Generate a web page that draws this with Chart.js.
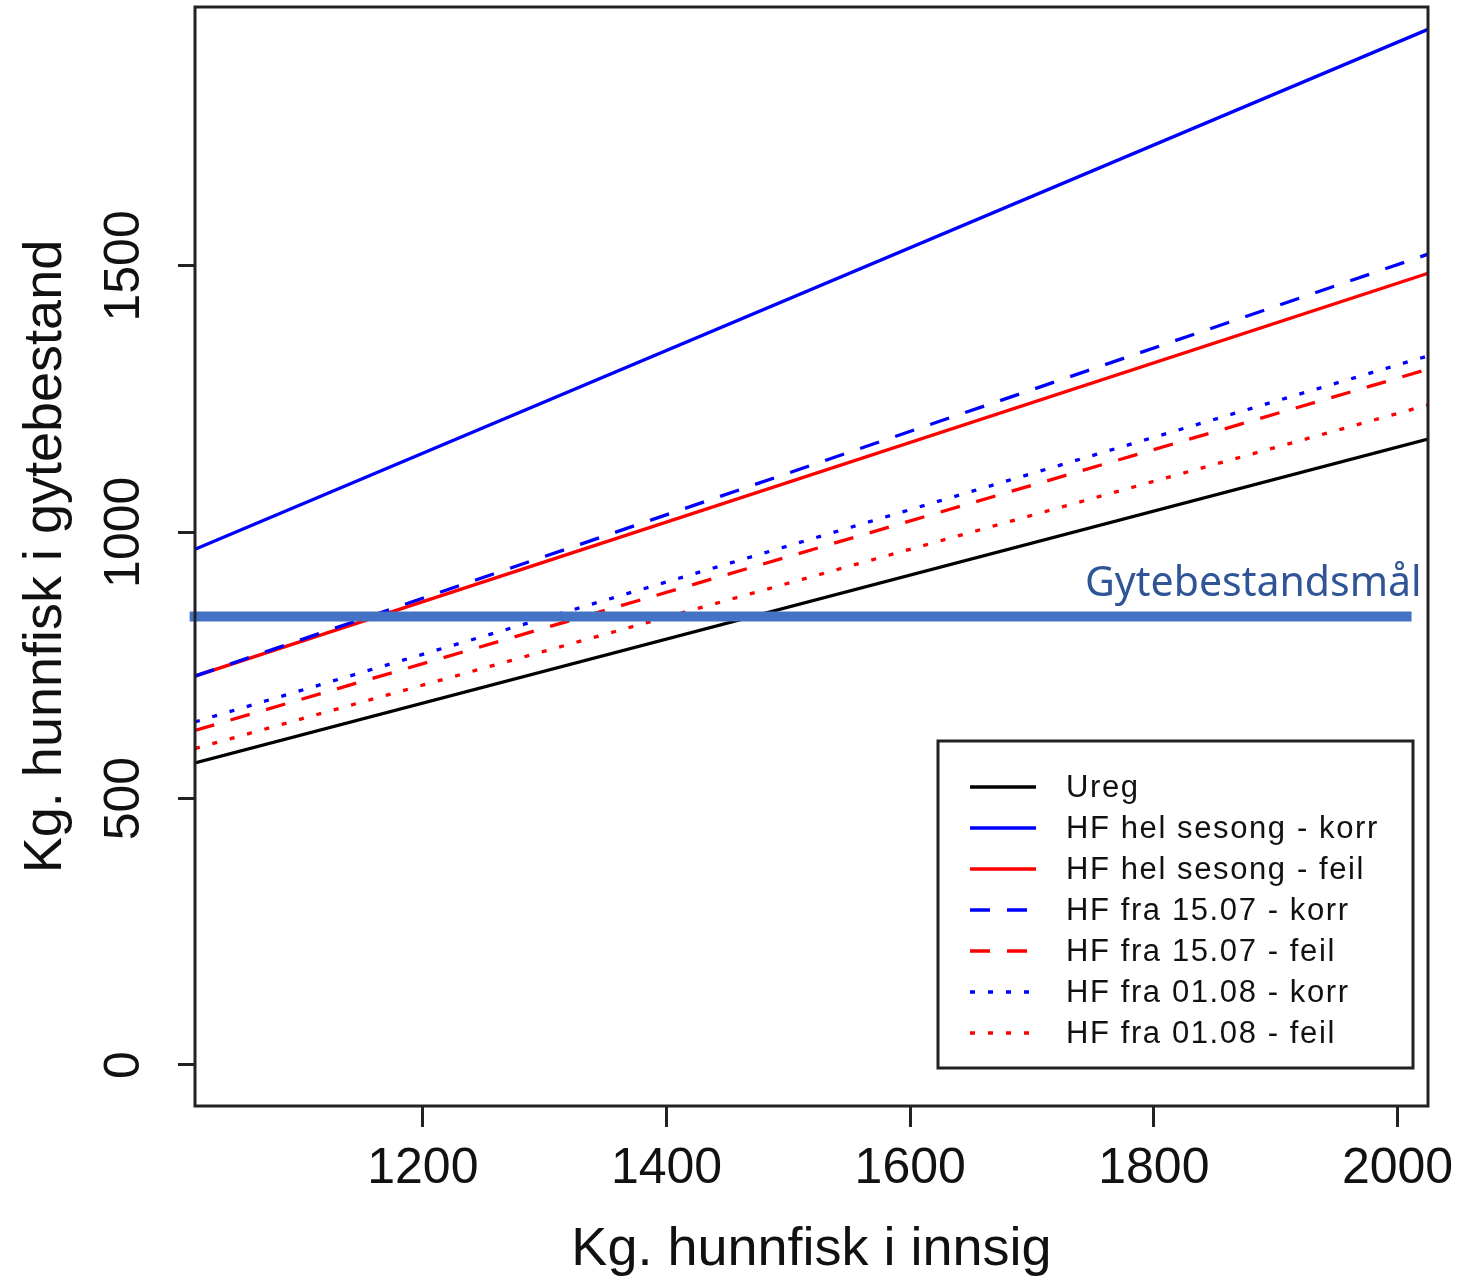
<!DOCTYPE html>
<html><head><meta charset="utf-8">
<script src="https://cdn.jsdelivr.net/npm/chart.js@4.4.1/dist/chart.umd.min.js"></script>
<style>html,body{margin:0;padding:0;background:#fff;}#wrap{width:1478px;height:1283px;}</style>
</head><body><div id="wrap"><canvas id="c" width="1478" height="1283"></canvas></div>
<script>
// ---- data ----
const xEnds = [1013, 2025];
const seriesNames = ['Ureg', 'HF hel sesong - korr', 'HF hel sesong - feil', 'HF fra 15.07 - korr', 'HF fra 15.07 - feil', 'HF fra 01.08 - korr', 'HF fra 01.08 - feil'];
const uregY = [567, 1175];
const helKorrY = [968, 1944];
const helFeilY = [730, 1486];
const fra1507KorrY = [730, 1522];
const fra1507FeilY = [628, 1306];
const fra0108KorrY = [644, 1331];
const fra0108FeilY = [594, 1239];
const targetLabel = 'Gytebestandsmål';
const targetX = [1008.6, 2011.5];
const targetY = [842, 842];
const xTicks = [1200, 1400, 1600, 1800, 2000];
const yTicks = [0, 500, 1000, 1500];
const xTitle = 'Kg. hunnfisk i innsig';
const yTitle = 'Kg. hunnfisk i gytebestand';

// ---- styles ----
const seriesY = [uregY, helKorrY, helFeilY, fra1507KorrY, fra1507FeilY, fra0108KorrY, fra0108FeilY];
const seriesColors = ['#000000', '#0000FF', '#FF0000', '#0000FF', '#FF0000', '#0000FF', '#FF0000'];
const DASH = [20, 17], DOT = [5, 13];
const seriesDash = [[], [], [], DASH, DASH, DOT, DOT];
const FONT = "'Liberation Sans', Arial, sans-serif";

const datasets = seriesNames.map((name, i) => ({
  label: name,
  data: xEnds.map((x, j) => ({x: x, y: seriesY[i][j]})),
  borderColor: seriesColors[i],
  borderWidth: 3.3,
  borderDash: seriesDash[i],
  pointRadius: 0,
  fill: false,
  tension: 0,
  order: 10 - i
}));
datasets.push({
  label: targetLabel,
  data: targetX.map((x, j) => ({x: x, y: targetY[j]})),
  borderColor: '#4472C4',
  borderWidth: 10,
  borderCapStyle: 'butt',
  pointRadius: 0,
  fill: false,
  clip: false,
  order: 0,
  isTarget: true
});

const framePlugin = {
  id: 'frame',
  afterDraw(chart) {
    const ctx = chart.ctx, ca = chart.chartArea;
    ctx.save();
    // plot box
    ctx.strokeStyle = '#222';
    ctx.lineWidth = 3;
    ctx.strokeRect(ca.left, ca.top, ca.right - ca.left, ca.bottom - ca.top);
    // target label
    const xs = chart.scales.x, ys = chart.scales.y;
    ctx.font = "41px 'Noto Sans', 'Open Sans', sans-serif";
    ctx.fillStyle = '#2F5597';
    ctx.textAlign = 'right';
    ctx.textBaseline = 'alphabetic';
    ctx.fillText(targetLabel, xs.getPixelForValue(targetX[1]) + 10, ys.getPixelForValue(targetY[0]) - 20);
    // legend
    const bw = 475, bh = 327;
    const bx = ca.right - 15 - bw, by = ca.bottom - 38 - bh;
    ctx.fillStyle = '#fff';
    ctx.fillRect(bx, by, bw, bh);
    ctx.lineWidth = 3;
    ctx.strokeStyle = '#222';
    ctx.strokeRect(bx, by, bw, bh);
    ctx.font = '31px ' + FONT;
    ctx.textAlign = 'left';
    ctx.textBaseline = 'middle';
    try { ctx.letterSpacing = '1.6px'; } catch (e) {}
    chart.data.datasets.filter(d => !d.isTarget).forEach((d, i) => {
      const y = by + 46 + i * 41;
      ctx.beginPath();
      ctx.setLineDash(d.borderDash || []);
      ctx.strokeStyle = d.borderColor;
      ctx.lineWidth = 3.3;
      ctx.moveTo(bx + 32, y);
      ctx.lineTo(bx + 98, y);
      ctx.stroke();
      ctx.setLineDash([]);
      ctx.fillStyle = '#111';
      ctx.fillText(d.label, bx + 128, y + 1);
    });
    ctx.restore();
  }
};

new Chart(document.getElementById('c'), {
  type: 'line',
  data: {datasets: datasets},
  plugins: [framePlugin],
  options: {
    responsive: false,
    animation: false,
    layout: {padding: {top: 7, right: 50, left: 0, bottom: 0}},
    plugins: {legend: {display: false}, tooltip: {enabled: false}},
    scales: {
      x: {
        type: 'linear',
        min: xEnds[0], max: xEnds[1],
        afterBuildTicks: s => { s.ticks = xTicks.map(v => ({value: v})); },
        afterFit: s => { s.height = 177; s.paddingLeft = 0; s.paddingRight = 0; },
        grid: {drawOnChartArea: false, drawTicks: true, tickLength: 21, tickColor: '#222', tickWidth: 3},
        border: {display: false},
        ticks: {font: {family: FONT, size: 50}, color: '#111', padding: 12, maxRotation: 0, minRotation: 0, callback: v => String(v)},
        title: {display: true, text: xTitle, font: {family: FONT, size: 54, lineHeight: 1.2}, color: '#111', padding: {top: 0, bottom: 0}}
      },
      y: {
        type: 'linear',
        min: -77, max: 1986,
        afterBuildTicks: s => { s.ticks = yTicks.map(v => ({value: v})); },
        afterFit: s => { s.width = 195; s.paddingTop = 0; s.paddingBottom = 0; },
        grid: {drawOnChartArea: false, drawTicks: true, tickLength: 17, tickColor: '#222', tickWidth: 3},
        border: {display: false},
        ticks: {font: {family: FONT, size: 50}, color: '#111', padding: -3, minRotation: 90, maxRotation: 90, crossAlign: 'center', callback: v => String(v)},
        title: {display: true, text: yTitle, font: {family: FONT, size: 54, lineHeight: 1.2}, color: '#111', padding: {top: 14, bottom: 0}}
      }
    }
  }
});
</script></body></html>
